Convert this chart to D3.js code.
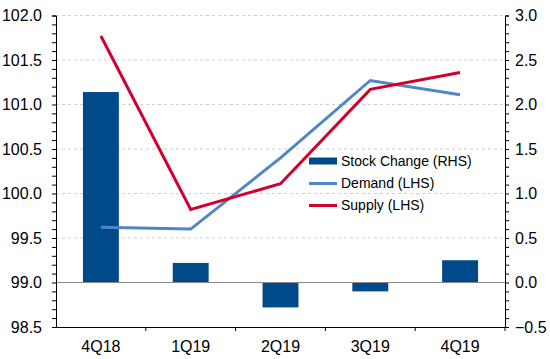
<!DOCTYPE html>
<html><head><meta charset="utf-8">
<script src="https://cdn.jsdelivr.net/npm/d3@7"></script>
<style>body{margin:0;background:#fff}svg{display:block;font-family:"Liberation Sans",Arial,sans-serif}</style>
</head><body><svg id="c" width="550" height="359"></svg>
<script>
const categories = ["4Q18","1Q19","2Q19","3Q19","4Q19"];
const stockChange = [2.14, 0.22, -0.28, -0.10, 0.25];
const demand = [99.62, 99.60, 100.40, 101.27, 101.11];
const supply = [101.77, 99.82, 100.11, 101.17, 101.36];
const leftTicks = [98.5,99.0,99.5,100.0,100.5,101.0,101.5,102.0];
const rightTicks = [-0.5,0,0.5,1.0,1.5,2.0,2.5,3.0];
const seriesNames = ["Stock Change (RHS)","Demand (LHS)","Supply (LHS)"];
const colors = {bar:"#004A8C", demand:"#4F86C6", supply:"#D2002E"};

const svg = d3.select("#c");
const L = 56, R = 505, T = 15.5, B = 327;
const x = d3.scaleBand().domain(categories).range([L,R]).paddingInner(0).paddingOuter(0);
const yL = d3.scaleLinear().domain([98.5,102]).range([B,T]);
const yR = d3.scaleLinear().domain([-0.5,3]).range([B,T]);

// gridlines
svg.append("g").selectAll("line").data(leftTicks.filter(v=>v>98.5 && v!==99.0)).join("line")
  .attr("x1",L).attr("x2",R).attr("y1",d=>yL(d)).attr("y2",d=>yL(d))
  .attr("stroke","#cfcfcf").attr("stroke-width",1).attr("stroke-dasharray","3,3");

// bars
const bw = x.bandwidth()*0.4;
svg.append("g").selectAll("rect").data(stockChange).join("rect")
  .attr("x",(d,i)=>x(categories[i])+x.bandwidth()/2-bw/2)
  .attr("width",bw)
  .attr("y",d=>Math.min(yR(d),yR(0)))
  .attr("height",d=>Math.abs(yR(d)-yR(0)))
  .attr("fill",colors.bar);

// zero line
svg.append("line").attr("x1",L).attr("x2",R).attr("y1",yR(0)).attr("y2",yR(0))
  .attr("stroke","#8a8a8a").attr("stroke-width",1);

// lines
const line = d3.line().x((d,i)=>x(categories[i])+x.bandwidth()/2).y(d=>yL(d));
svg.append("path").datum(demand).attr("d",line).attr("fill","none")
  .attr("stroke",colors.demand).attr("stroke-width",3);
svg.append("path").datum(supply).attr("d",line).attr("fill","none")
  .attr("stroke",colors.supply).attr("stroke-width",3);

// axes
const fs = "16px";
const minorL = d3.range(98.5,102.001,0.1);
const gl = svg.append("g").attr("transform",`translate(${L},0)`)
  .call(d3.axisLeft(yL).tickValues(minorL).tickSize(4).tickFormat(""));
gl.select(".domain").attr("stroke","#000");
gl.selectAll(".tick line").attr("stroke","#000");
svg.append("g").selectAll("text").data(leftTicks).join("text")
  .attr("x",L-14).attr("y",d=>yL(d)).attr("dy","0.35em").attr("text-anchor","end")
  .style("font-size",fs).attr("fill","#000").text(d=>d3.format(".1f")(d));

const minorR = d3.range(-0.5,3.001,0.1);
const gr = svg.append("g").attr("transform",`translate(${R},0)`)
  .call(d3.axisRight(yR).tickValues(minorR).tickSize(4).tickFormat(""));
gr.select(".domain").attr("stroke","#000");
gr.selectAll(".tick line").attr("stroke","#000");
svg.append("g").selectAll("text").data(rightTicks).join("text")
  .attr("x",R+10).attr("y",d=>yR(d)).attr("dy","0.35em").attr("text-anchor","start")
  .style("font-size",fs).attr("fill","#000").text(d=>d3.format(".1f")(d));

const gx = svg.append("g").attr("transform",`translate(0,${B})`)
  .call(d3.axisBottom(x).tickSize(0).tickFormat(""));
gx.select(".domain").attr("stroke","#000");
gx.append("g").selectAll("line").data(categories.slice(1).concat(["__end"])).join("line")
  .attr("x1",(d,i)=>i<categories.length-1?x(d):R).attr("x2",(d,i)=>i<categories.length-1?x(d):R)
  .attr("y1",0).attr("y2",4).attr("stroke","#000");
svg.append("g").selectAll("text").data(categories).join("text")
  .attr("x",d=>x(d)+x.bandwidth()/2).attr("y",B+19).attr("dy","0.35em").attr("text-anchor","middle")
  .style("font-size",fs).attr("fill","#000").text(d=>d);

// legend
const lg = svg.append("g");
const ly = [161,183.5,205.5];
const lcol = [colors.bar,colors.demand,colors.supply];
const lw = [7,3,3];
seriesNames.forEach((n,i)=>{
  lg.append("line").attr("x1",309).attr("x2",337).attr("y1",ly[i]).attr("y2",ly[i])
    .attr("stroke",lcol[i]).attr("stroke-width",lw[i]);
  lg.append("text").attr("x",341).attr("y",ly[i]).attr("dy","0.35em")
    .style("font-size","14px").attr("fill","#000").text(n);
});
</script></body></html>
